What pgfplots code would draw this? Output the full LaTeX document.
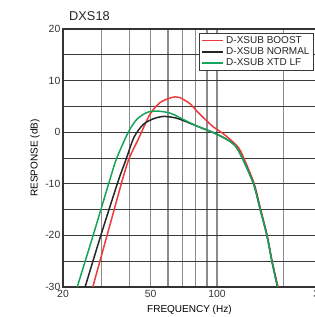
\documentclass[border=0pt]{standalone}
\usepackage{pgfplots}
\pgfplotsset{compat=1.18}
\usepackage{fontspec}
\setmainfont{Liberation Sans}
\definecolor{cred}{HTML}{EE3A3A}
\definecolor{cgreen}{HTML}{17A45A}
\definecolor{cblack}{HTML}{262626}
\definecolor{vgrid}{HTML}{8C8C8C}
\definecolor{hgrid}{HTML}{3A3A3A}
\definecolor{frame}{HTML}{333333}
\begin{document}
\fontsize{10bp}{12bp}\selectfont
\begin{tikzpicture}
\useasboundingbox (0,0) rectangle (315bp,317bp);
\node[anchor=base west, inner sep=0pt, font=\fontsize{12.8bp}{14bp}\selectfont, text=black!85] at (69bp,296.3bp) {DXS18};
\begin{axis}[
  at={(63bp,30bp)}, anchor=south west,
  scale only axis, width=259bp, height=258bp,
  xmode=log, xmin=20, xmax=300, ymin=-30, ymax=20,
  xtick={20,50,100,300}, xticklabels={20,50,100,300},
  minor xtick={30,40,60,70,80,90,200},
  ytick={-30,-20,-10,0,10,20},
  minor ytick={-25,-15,-5,5,15},
  /pgf/number format/assume math mode=true,
  tick label style={font=\fontsize{10.4bp}{12bp}\selectfont, text=black!80},
  yticklabel style={inner xsep=2.5bp},
  major tick length=0pt, minor tick length=0pt,
  xmajorgrids, xminorgrids, ymajorgrids, yminorgrids,
  major x grid style={vgrid, line width=1.3bp},
  minor x grid style={vgrid, line width=1.3bp},
  major y grid style={hgrid, line width=0.9bp},
  minor y grid style={hgrid, line width=0.9bp},
  axis line style={frame, line width=1.5bp},
  xlabel={FREQUENCY (Hz)}, ylabel={RESPONSE (dB)},
  label style={font=\fontsize{10bp}{11bp}\selectfont, text=black!80},
  every axis x label/.style={at={(axis description cs:0.488,-0.089)}, anchor=center},
  every axis y label/.style={at={(axis description cs:-0.108,0.5)}, rotate=90, anchor=center},
  legend style={at={(axis description cs:1,1)}, xshift=-8bp, yshift=-4bp, anchor=north east,
    draw=hgrid, line width=0.9bp, fill=white, font=\fontsize{10bp}{11bp}\selectfont,
    inner xsep=2bp, inner ysep=1bp, row sep=-1.2bp, text=black!85},
  legend cell align=left,
  legend image code/.code={\draw[#1, line width=1.6bp] (0bp,0bp) -- (21bp,0bp);},
]
\addplot[cred, line width=1.5bp, smooth, tension=0.5] coordinates {
(27.3,-30) (31.7,-20) (37.3,-9.1) (40,-5) (43.9,-1.4) (49.7,3.5) (55.2,5.75) (60,6.5) (64.6,6.85) (68,6.7) (75.6,5.5) (81,4.1) (88.4,2.5) (96.5,1.0) (105.3,-0.1) (114.8,-1.4) (125.3,-3.0) (132,-4.9) (147.6,-10) (158,-15) (169,-20) (178,-25) (189.5,-30)
};
\addlegendentry{D-XSUB BOOST}
\addplot[cblack, line width=1.5bp, smooth, tension=0.5] coordinates {
(25.2,-30) (29.7,-20) (35.6,-9.5) (38.5,-5.5) (42,-1) (46.3,1.5) (51.5,2.6) (57.1,3.05) (63.4,2.85) (68,2.5) (81,1.2) (96.5,-0.1) (110.9,-1.4) (121,-2.6) (130,-4.9) (146.6,-10) (157.3,-15) (168.6,-20) (177.7,-25) (188.4,-30)
};
\addlegendentry{D-XSUB NORMAL}
\addplot[cgreen, line width=1.5bp, smooth, tension=0.5] coordinates {
(23.2,-30) (27.4,-20) (32.7,-9.1) (35.1,-5) (39.6,0) (43.3,2.5) (48,3.8) (53.3,4.1) (61.3,3.7) (68,2.8) (81,1.2) (96.5,-0.1) (110.9,-1.4) (121,-2.6) (130,-4.9) (146.6,-10) (157.3,-15) (168.6,-20) (177.7,-25) (188.4,-30)
};
\addlegendentry{D-XSUB XTD LF}
\end{axis}
\end{tikzpicture}
\end{document}
